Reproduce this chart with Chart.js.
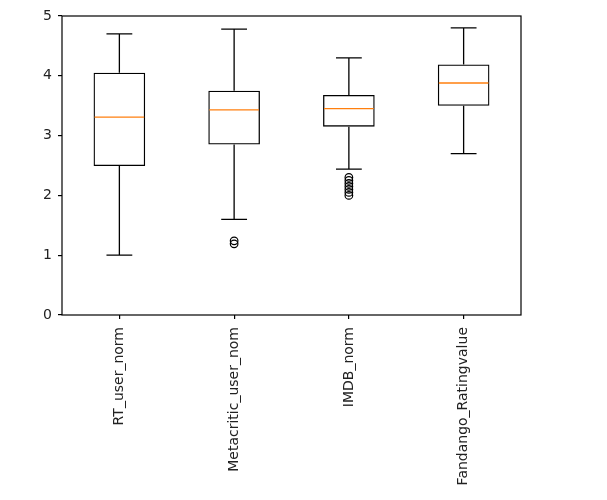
<!DOCTYPE html>
<html>
<head>
<meta charset="utf-8">
<script src="https://cdn.jsdelivr.net/npm/chart.js@4.4.1/dist/chart.umd.min.js"></script>
<style>
    body { margin: 0; background: #fff; }
    #wrap { width: 607px; height: 500px; }
</style>
</head>
<body>
<div id="wrap"><canvas id="boxChart" width="607" height="500"></canvas></div>
<script>
// Andmed (loetud pildilt)
const categories = ['RT_user_norm', 'Metacritic_user_nom', 'IMDB_norm', 'Fandango_Ratingvalue'];
const whiskerLow = [1.0, 1.6, 2.44, 2.7];
const q1 = [2.49, 2.85, 3.15, 3.5];
const medians = [3.31, 3.43, 3.45, 3.88];
const q3 = [4.05, 3.75, 3.68, 4.19];
const whiskerHigh = [4.7, 4.78, 4.3, 4.8];
const outliersMeta = [1.24, 1.19];
const outliersImdb = [2.3, 2.25, 2.2, 2.15, 2.1, 2.05, 2.0];
const yTicks = [0, 1, 2, 3, 4, 5];

const boxData = categories.map((c, i) => [q1[i], q3[i]]);
const outlierPoints = [
    ...outliersMeta.map(v => ({ x: categories[1], y: v })),
    ...outliersImdb.map(v => ({ x: categories[2], y: v })),
];

const fontFamily = "'DejaVu Sans', sans-serif";
const fontSize = 14;
const lineW = 1.3;

// Vuntsid, mediaanid ja raam
const boxPlotExtras = {
    id: 'boxPlotExtras',
    afterDatasetsDraw(chart) {
        const ctx = chart.ctx;
        const x = chart.scales.x;
        const y = chart.scales.y;
        const bars = chart.getDatasetMeta(0).data;
        ctx.save();
        ctx.lineWidth = lineW;
        categories.forEach((c, i) => {
            const cx = x.getPixelForValue(i);
            const w = bars[i].width;
            const capHalf = w / 4;
            const yLow = y.getPixelForValue(whiskerLow[i]);
            const yQ1 = y.getPixelForValue(q1[i]);
            const yQ3 = y.getPixelForValue(q3[i]);
            const yHigh = y.getPixelForValue(whiskerHigh[i]);
            const yMed = y.getPixelForValue(medians[i]);

            ctx.strokeStyle = '#000';
            ctx.beginPath();
            ctx.moveTo(cx, yQ1); ctx.lineTo(cx, yLow);
            ctx.moveTo(cx - capHalf, yLow); ctx.lineTo(cx + capHalf, yLow);
            ctx.moveTo(cx, yQ3); ctx.lineTo(cx, yHigh);
            ctx.moveTo(cx - capHalf, yHigh); ctx.lineTo(cx + capHalf, yHigh);
            ctx.stroke();

            ctx.strokeStyle = '#ff7f0e';
            ctx.beginPath();
            ctx.moveTo(cx - w / 2 + 1, yMed); ctx.lineTo(cx + w / 2 - 1, yMed);
            ctx.stroke();
        });
        const a = chart.chartArea;
        ctx.strokeStyle = '#000';
        ctx.lineWidth = 1.2;
        ctx.strokeRect(a.left, a.top, a.right - a.left, a.bottom - a.top);
        ctx.restore();
    }
};

new Chart(document.getElementById('boxChart'), {
    type: 'bar',
    data: {
        labels: categories,
        datasets: [
            {
                type: 'bar',
                data: boxData,
                backgroundColor: 'rgba(0,0,0,0)',
                borderColor: '#000',
                borderWidth: lineW,
                borderSkipped: false,
                barPercentage: 0.45,
                categoryPercentage: 1.0,
            },
            {
                type: 'line',
                data: outlierPoints,
                showLine: false,
                pointStyle: 'circle',
                pointRadius: 3.8,
                pointBorderWidth: 1.2,
                pointBorderColor: '#000',
                pointBackgroundColor: 'rgba(0,0,0,0)',
            },
        ],
    },
    options: {
        responsive: false,
        animation: false,
        layout: { padding: { top: 16, right: 86, left: 0, bottom: 0 } },
        plugins: {
            legend: { display: false },
            tooltip: { enabled: false },
        },
        scales: {
            x: {
                offset: true,
                grid: { display: true, offset: false, drawOnChartArea: false, tickLength: 4, color: '#000', lineWidth: 1.2 },
                border: { display: false },
                ticks: {
                    minRotation: 90,
                    maxRotation: 90,
                    padding: 8,
                    color: '#222',
                    font: { family: fontFamily, size: fontSize },
                },
                afterFit(scale) { scale.height = 185; },
            },
            y: {
                min: 0,
                max: 5,
                grid: { display: true, drawOnChartArea: false, tickLength: 4, color: '#000', lineWidth: 1.2 },
                border: { display: false },
                afterBuildTicks(scale) { scale.ticks = yTicks.map(v => ({ value: v })); },
                ticks: {
                    padding: 6,
                    color: '#222',
                    font: { family: fontFamily, size: fontSize },
                },
                afterFit(scale) { scale.width = 62; },
            },
        },
    },
    plugins: [boxPlotExtras],
});
</script>
</body>
</html>
